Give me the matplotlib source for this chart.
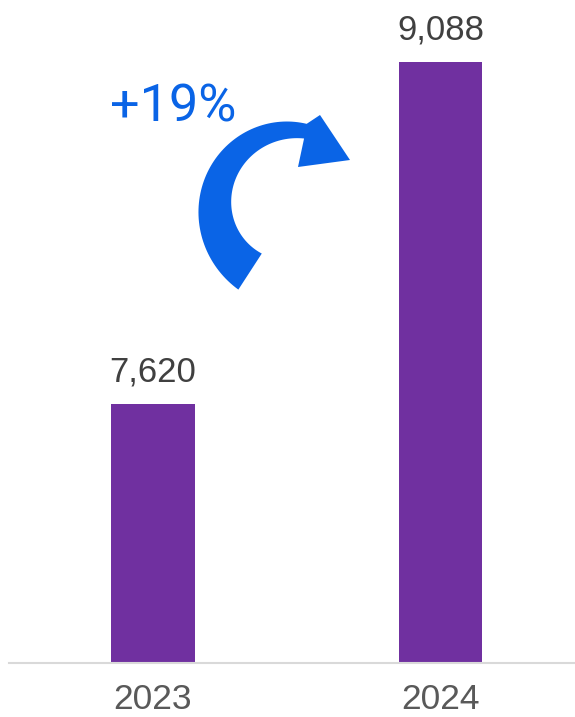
import numpy as np
import matplotlib.pyplot as plt
from matplotlib.patches import Polygon

# data
years = ['2023', '2024']
values = [7620, 9088]
change_label = '+19%'

W, H = 575, 717
fig = plt.figure(figsize=(W / 100, H / 100), dpi=100)

# axes: baseline at y=663px, 2024 bar top at y=62px
ax = fig.add_axes([9 / W, 54 / H, 566 / W, 601 / H])
ax.bar(range(len(values)), values, width=0.292, color='#7030a0', zorder=2)
ax.set_xlim(-0.501, 1.468)
ax.set_ylim(6508, 9088)

for side in ['top', 'right', 'left']:
    ax.spines[side].set_visible(False)
ax.spines['bottom'].set_color('#d9d9d9')
ax.spines['bottom'].set_linewidth(1.5)
ax.set_yticks([])
ax.set_xticks([])

# value labels
for i, v in enumerate(values):
    ax.annotate(f'{v:,}', xy=(i, v), xytext=(0, 16), textcoords='offset points',
                ha='center', va='baseline', fontsize=25, color='#404040',
                family='Liberation Sans', annotation_clip=False)

# year labels
for i, y in enumerate(years):
    ax.annotate(y, xy=(i, 0), xycoords=('data', 'axes fraction'),
                xytext=(0, -33), textcoords='offset points',
                ha='center', va='baseline', fontsize=25.5, color='#595959',
                family='Liberation Sans', annotation_clip=False)

# curved growth arrow, drawn in pixel space of the figure
blue = '#0a64e6'
cx, cy, rm = 292.0, 207.0, 77.0
th = np.radians(np.linspace(237, 80, 80))
wd = 19 + (np.degrees(th) - 103) / (237 - 103) * 24
outer = np.c_[cx + (rm + wd / 2) * np.cos(th), cy - (rm + wd / 2) * np.sin(th)]
inner = np.c_[cx + (rm - wd / 2) * np.cos(th), cy - (rm - wd / 2) * np.sin(th)]
head = np.array([[320, 115], [350, 160], [298, 167]])
pts = np.vstack([outer, head, inner[::-1]])
pts_fig = np.c_[pts[:, 0] / W, 1 - pts[:, 1] / H]
fig.patches.append(Polygon(pts_fig, closed=True, transform=fig.transFigure,
                           facecolor=blue, edgecolor='none'))

fig.text(173 / W, 1 - 122 / H, change_label, ha='center', va='baseline',
         fontsize=37.5, color=blue, family='Roboto')

fig.savefig('out.png', dpi=100)
